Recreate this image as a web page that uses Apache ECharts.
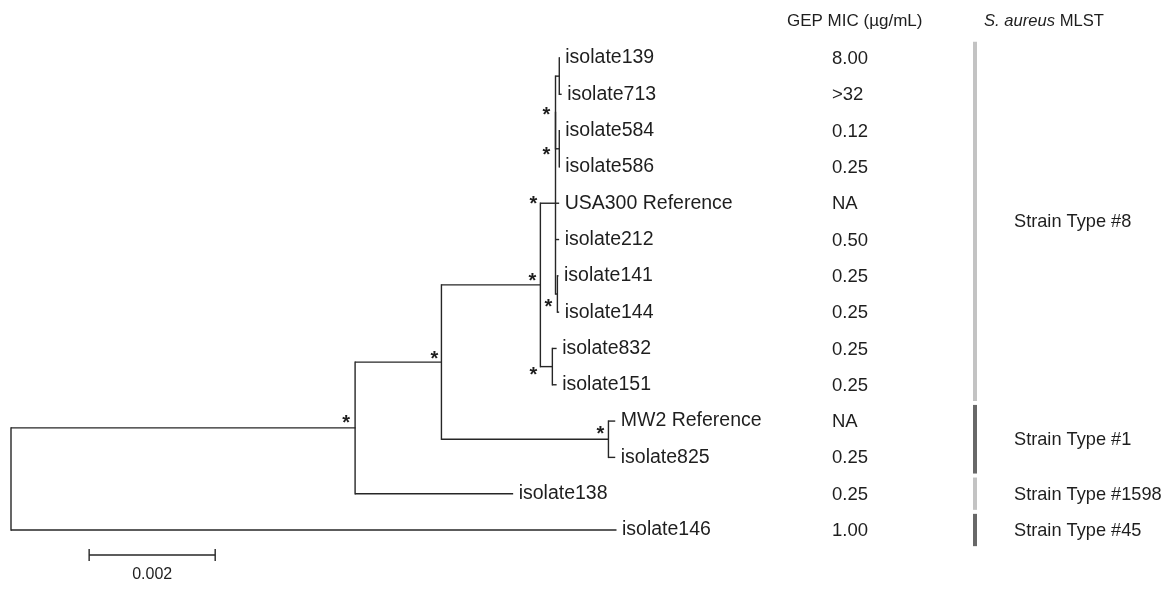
<!DOCTYPE html>
<html>
<head>
<meta charset="utf-8">
<script src="https://cdn.jsdelivr.net/npm/echarts@6/dist/echarts.min.js"></script>
<style>html,body{margin:0;padding:0;background:#fff}#c{width:1164px;height:605px}</style>
</head>
<body>
<div id="c"></div>
<script>
// ---- DATA ----
const leafNames = ['isolate139','isolate713','isolate584','isolate586','USA300 Reference','isolate212','isolate141','isolate144','isolate832','isolate151','MW2 Reference','isolate825','isolate138','isolate146'];
const micValues = ['8.00','>32','0.12','0.25','NA','0.50','0.25','0.25','0.25','0.25','NA','0.25','0.25','1.00'];
const micHeader = 'GEP MIC (µg/mL)';
const mlstHeaderItalic = 'S. aureus';
const mlstHeaderRest = ' MLST';
const mlstTypes = ['Strain Type #8','Strain Type #1','Strain Type #1598','Strain Type #45'];
const mlstFirstLeaf = [0, 10, 12, 13];
const mlstLastLeaf = [9, 11, 12, 13];
const mlstShade = ['light','dark','light','dark'];

// tree: node, parent, branch length (substitutions/site), bootstrap mark
const treeNodes   = ['root','n1','isolate146','n2','isolate138','n3','n4','MW2 Reference','isolate825','n5','n6','isolate832','isolate151','n7','USA300 Reference','isolate212','n8','isolate141','isolate144','n9','n10','isolate139','isolate713','isolate584','isolate586'];
const treeParents = [null,'root','root','n1','n1','n2','n2','n4','n4','n3','n3','n6','n6','n5','n5','n5','n5','n8','n8','n7','n7','n9','n9','n10','n10'];
const branchLengths = [0,0.00546,0.0096,0.00137,0.0025,0.00157,0.00265,0.0001,0.0001,0.00024,0.00019,0.00006,0.00006,0,0.00005,0.00005,0.00003,0.00001,0.00002,0.00006,0.00006,0,0.00003,0,0];
const supportMarks = ['','*','','*','','*','*','','','*','*','','','*','','','*','','','','*','','','',''];
const scaleBarLength = 0.002;
const scaleBarLabel = '0.002';

// ---- layout of tree computed from the data ----
const idx = {}; treeNodes.forEach((n,i)=>idx[n]=i);
const children = treeNodes.map(()=>[]);
treeParents.forEach((p,i)=>{ if(p!==null) children[idx[p]].push(i); });
const nodeX = new Array(treeNodes.length).fill(0);
const nodeY = new Array(treeNodes.length).fill(0);
function setX(i, base){ nodeX[i] = base + branchLengths[i]; children[i].forEach(c=>setX(c, nodeX[i])); }
setX(0, 0);
function setY(i){
  if(children[i].length===0){ nodeY[i] = leafNames.indexOf(treeNodes[i]); return nodeY[i]; }
  const ys = children[i].map(setY);
  nodeY[i] = (Math.min(...ys)+Math.max(...ys))/2; return nodeY[i];
}
setY(0);

const FONT = "'Liberation Sans', Arial, Helvetica, sans-serif";
const TXT = '#1e1e1e';
const LINE = '#262626';
const SCALE_BAR_X = 0.00124;
const SCALE_BAR_Y = 13.69;
const MIC_X = 832, MLST_BAR_X = 973, MLST_TEXT_X = 1014;
// placement of the support asterisks relative to their node (pixels)
const STAR_SHIFT = {n1:[-9,-8], n2:[-7,-7], n3:[-8,-7], n4:[-8,-9], n5:[-22,-3], n6:[-19,5], n7:[-9,-1], n8:[-9,9], n10:[-13,3]};

const chart = echarts.init(document.getElementById('c'), null, {renderer:'canvas'});
chart.setOption({
  animation:false,
  backgroundColor:'#ffffff',
  grid:{left:11, width:605, top:58, height:472},
  xAxis:{type:'value', min:0, max:0.0096, show:false},
  yAxis:{type:'value', min:0, max:13, inverse:true, show:false},
  series:[
    { // tree branches, leaf labels, support marks
      type:'custom', clip:false,
      data: treeNodes.map((n,i)=>[i]),
      renderItem:(params, api)=>{
        const i = api.value(0);
        const els = [];
        const p = api.coord([nodeX[i], nodeY[i]]);
        const st = {stroke:LINE, lineWidth:1.4};
        if(treeParents[i]!==null){
          const pp = api.coord([nodeX[idx[treeParents[i]]], nodeY[i]]);
          els.push({type:'line', shape:{x1:pp[0], y1:p[1], x2:p[0]+0.5, y2:p[1]}, style:st});
        }
        if(children[i].length){
          const ys = children[i].map(c=>nodeY[c]);
          const a = api.coord([nodeX[i], Math.min(...ys)]);
          const b = api.coord([nodeX[i], Math.max(...ys)]);
          els.push({type:'line', shape:{x1:p[0], y1:a[1]-0.7, x2:p[0], y2:b[1]+0.7}, style:st});
        } else {
          els.push({type:'text', x:p[0]+6, y:p[1], style:{text:treeNodes[i], font:'19.5px '+FONT, fill:TXT, align:'left', verticalAlign:'middle'}});
        }
        if(supportMarks[i]){
          const s = STAR_SHIFT[treeNodes[i]] || [-8,-8];
          els.push({type:'text', x:p[0]+s[0], y:p[1]+s[1]+4, style:{text:supportMarks[i], font:'bold 20px '+FONT, fill:TXT, align:'center', verticalAlign:'middle'}});
        }
        return {type:'group', children:els};
      }
    },
    { // MIC column
      type:'custom', clip:false,
      data: micValues.map((v,i)=>[i]),
      renderItem:(params, api)=>{
        const i = api.value(0);
        const y = api.coord([0, i])[1];
        return {type:'text', x:MIC_X, y:y+1, style:{text:micValues[i], font:'18.5px '+FONT, fill:TXT, align:'left', verticalAlign:'middle'}};
      }
    },
    { // MLST bars + labels
      type:'custom', clip:false,
      data: mlstTypes.map((t,i)=>[i]),
      renderItem:(params, api)=>{
        const i = api.value(0);
        const y0 = api.coord([0, mlstFirstLeaf[i]-0.5])[1] + 2;
        const y1 = api.coord([0, mlstLastLeaf[i]+0.5])[1] - 2;
        const ym = api.coord([0, (mlstFirstLeaf[i]+mlstLastLeaf[i])/2])[1];
        return {type:'group', children:[
          {type:'rect', shape:{x:MLST_BAR_X, y:y0, width:4, height:y1-y0}, style:{fill: mlstShade[i]==='light' ? '#c3c3c3' : '#686868'}},
          {type:'text', x:MLST_TEXT_X, y:ym+1, style:{text:mlstTypes[i], font:'18.2px '+FONT, fill:TXT, align:'left', verticalAlign:'middle'}}
        ]};
      }
    },
    { // scale bar
      type:'custom', clip:false,
      data:[[SCALE_BAR_X, SCALE_BAR_X+scaleBarLength, SCALE_BAR_Y]],
      renderItem:(params, api)=>{
        const a = api.coord([api.value(0), api.value(2)]);
        const b = api.coord([api.value(1), api.value(2)]);
        const st = {stroke:LINE, lineWidth:1.4};
        return {type:'group', children:[
          {type:'line', shape:{x1:a[0], y1:a[1], x2:b[0], y2:b[1]}, style:st},
          {type:'line', shape:{x1:a[0], y1:a[1]-6, x2:a[0], y2:a[1]+6}, style:st},
          {type:'line', shape:{x1:b[0], y1:b[1]-6, x2:b[0], y2:b[1]+6}, style:st},
          {type:'text', x:(a[0]+b[0])/2, y:a[1]+20, style:{text:scaleBarLabel, font:'16px '+FONT, fill:TXT, align:'center', verticalAlign:'middle'}}
        ]};
      }
    }
  ],
  graphic:[
    {type:'text', left:787, top:13, style:{text:micHeader, font:'17px '+FONT, fill:TXT}},
    {type:'text', left:984, top:13, style:{text:'{i|'+mlstHeaderItalic+'}'+mlstHeaderRest, font:'16.6px '+FONT, fill:TXT,
      rich:{i:{fontStyle:'italic', fontSize:16.6, fontFamily:FONT, fill:TXT}}}}
  ]
});
</script>
</body>
</html>
